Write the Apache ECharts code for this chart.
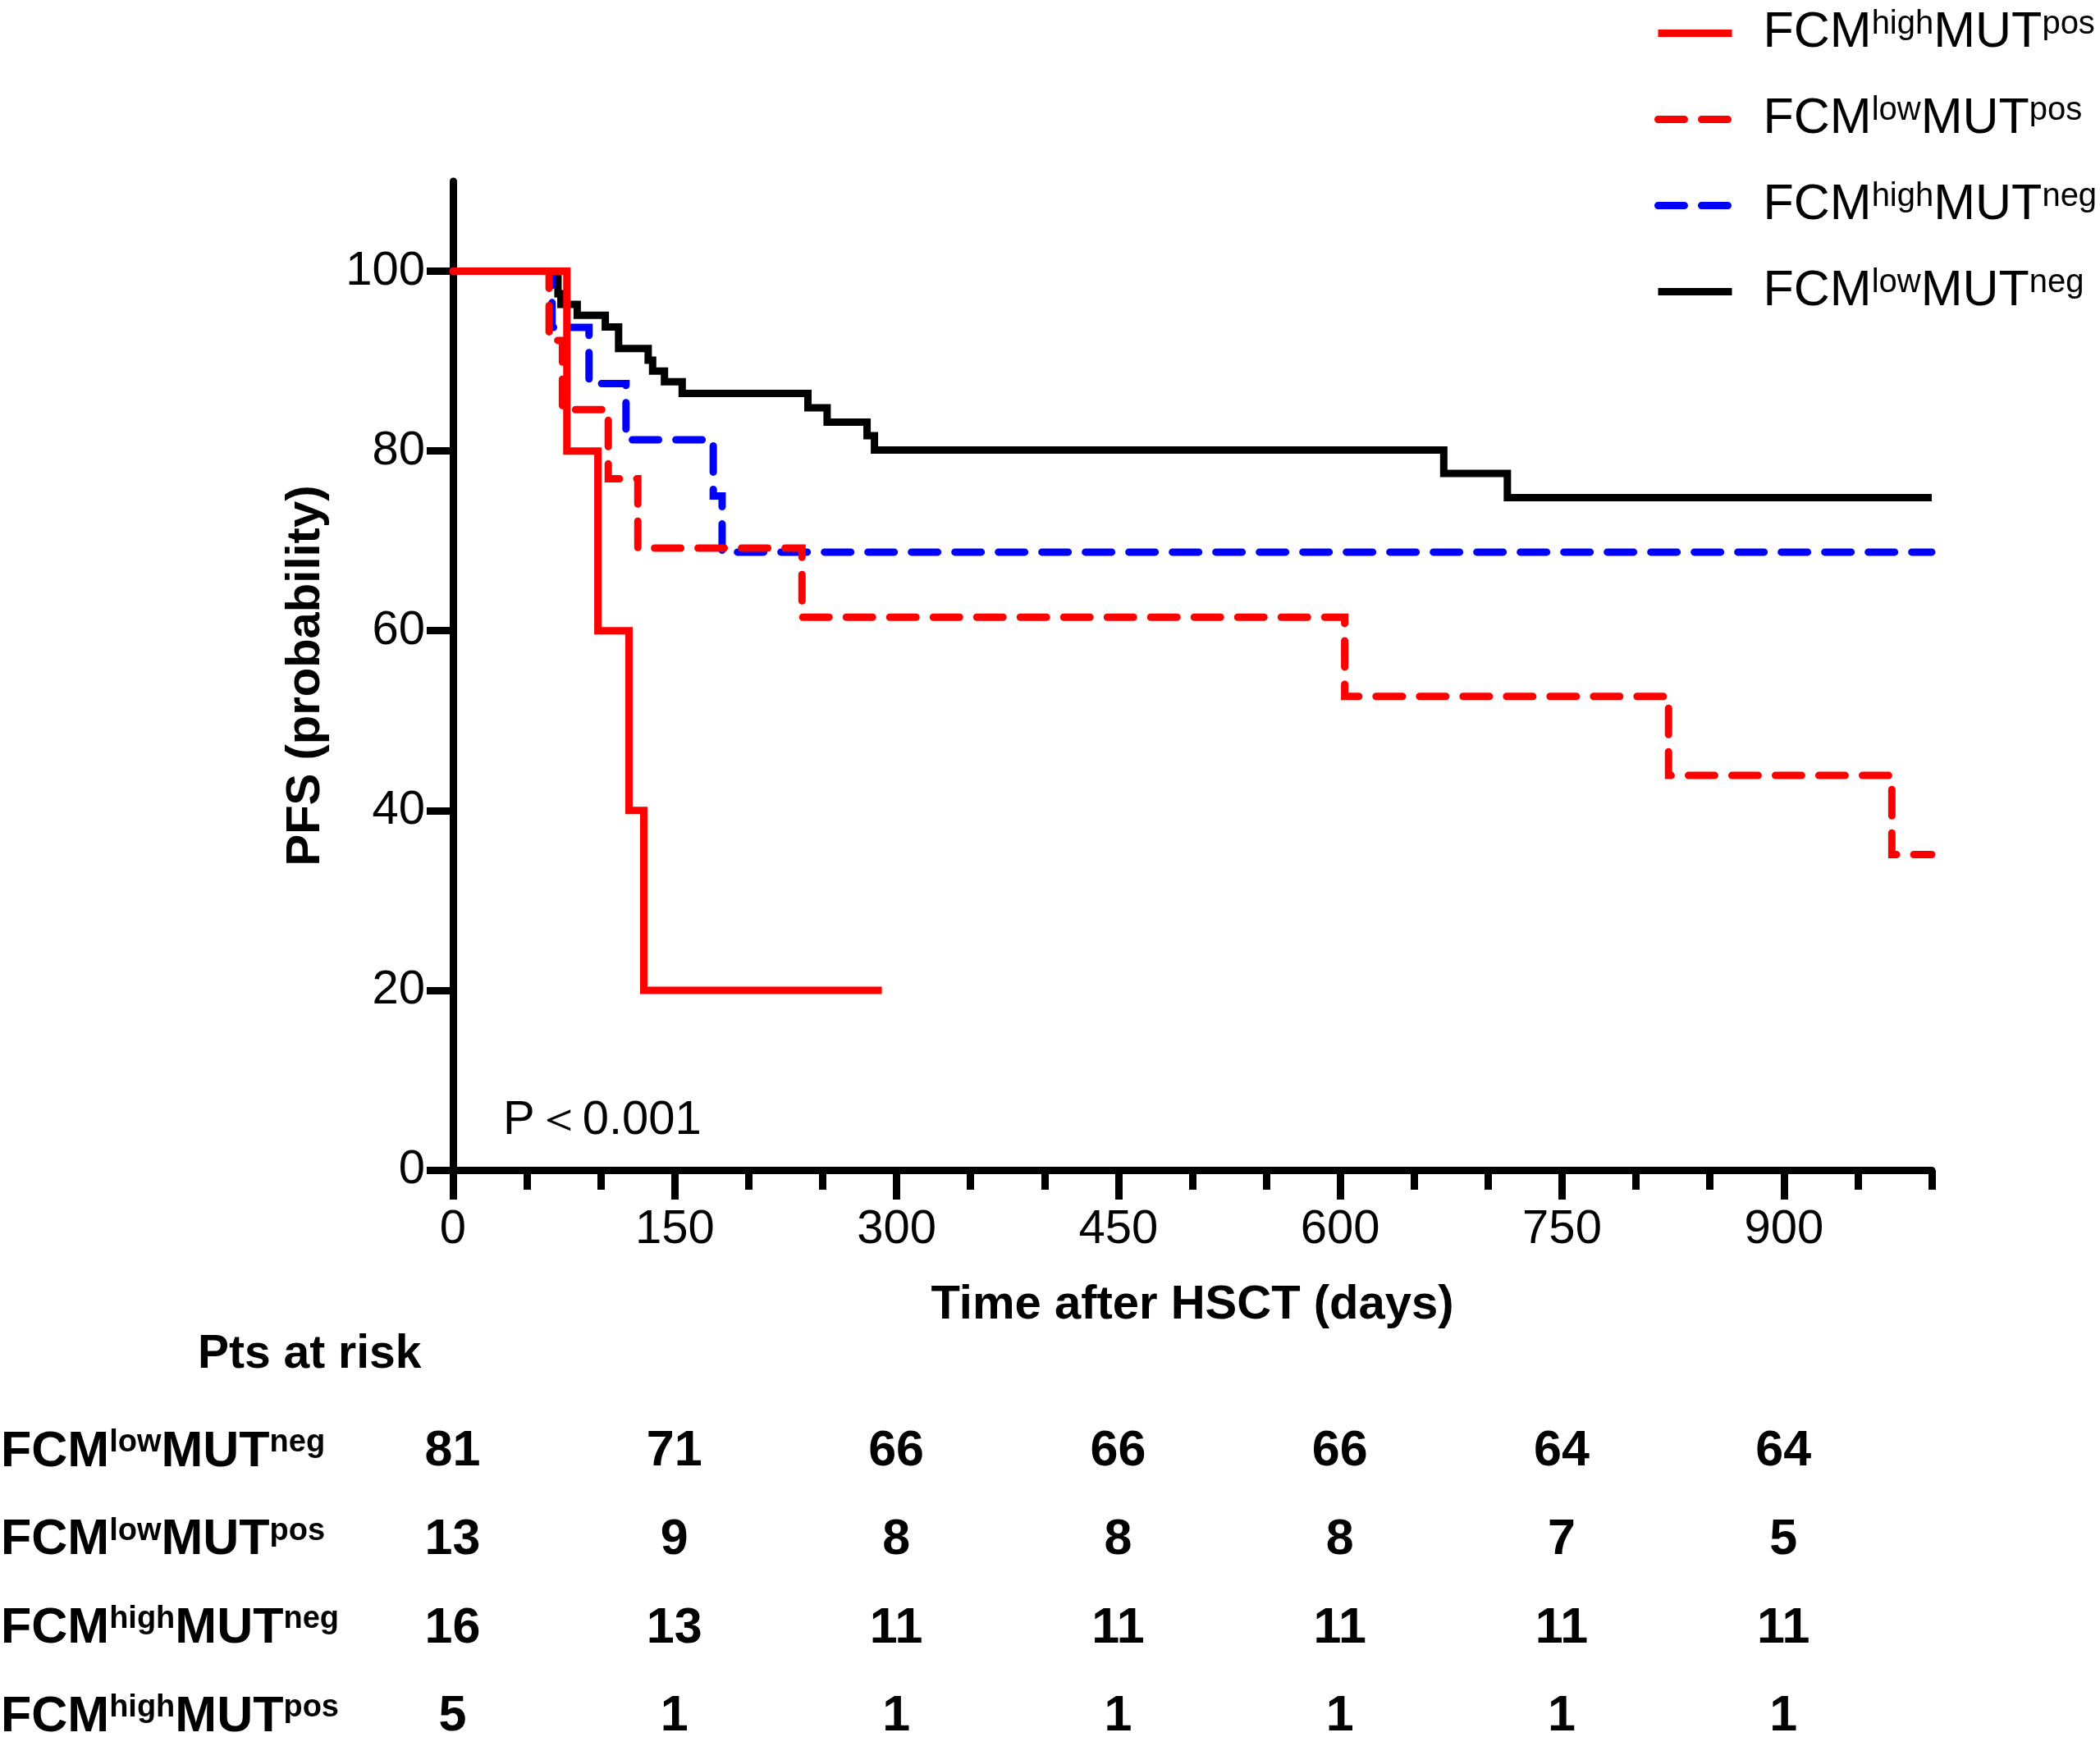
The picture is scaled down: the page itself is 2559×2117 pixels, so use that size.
<!DOCTYPE html>
<html>
<head>
<meta charset="utf-8">
<title>PFS by FCM and MUT status</title>
<script src="https://cdn.jsdelivr.net/npm/echarts@6/dist/echarts.min.js"></script>
<style>
  html, body { margin: 0; padding: 0; background: #fff; }
  #chart { width: 2559px; height: 2117px; }
</style>
</head>
<body>
<div id="chart"></div>
<script>
// Kaplan-Meier steps: day of each drop and the PFS (%) after it
const lowNegDays  = [0, 71, 73, 84, 103, 112, 132, 135, 143, 155, 240, 253, 280, 285, 670, 713, 1000];
const lowNegPfs   = [100, 97.5, 96.3, 95.1, 93.8, 91.4, 90.1, 88.9, 87.7, 86.4, 84.8, 83.2, 81.7, 80.1, 77.5, 74.8, 74.8];
const highNegDays = [0, 67, 92, 117, 176, 182, 1000];
const highNegPfs  = [100, 93.75, 87.5, 81.25, 75, 68.75, 68.75];
const lowPosDays  = [0, 65, 74, 105, 125, 236, 603, 822, 973, 1000];
const lowPosPfs   = [100, 92.3, 84.6, 76.9, 69.2, 61.5, 52.7, 43.9, 35.1, 35.1];
const highPosDays = [0, 77, 98, 119, 129, 290];
const highPosPfs  = [100, 80, 60, 40, 20, 20];

// patients at risk
const riskDays    = [0, 150, 300, 450, 600, 750, 900];
const riskRows    = ['FCMlowMUTneg', 'FCMlowMUTpos', 'FCMhighMUTneg', 'FCMhighMUTpos'];
const riskLowNeg  = [81, 71, 66, 66, 66, 64, 64];
const riskLowPos  = [13, 9, 8, 8, 8, 7, 5];
const riskHighNeg = [16, 13, 11, 11, 11, 11, 11];
const riskHighPos = [5, 1, 1, 1, 1, 1, 1];

const legendOrder = ['FCMhighMUTpos', 'FCMlowMUTpos', 'FCMhighMUTneg', 'FCMlowMUTneg'];
const yTicks = [0, 20, 40, 60, 80, 100];
const xLabelTicks = [0, 150, 300, 450, 600, 750, 900];

const font = "'Liberation Sans', Arial, sans-serif";
const zip = (xs, ys) => xs.map((x, i) => [x, ys[i]]);
// FCMlowMUTneg -> rich text with superscripts
const supText = (name, m, s) => name.replace(/^FCM(\w+?)MUT(\w+)$/, '{' + m + '0|FCM}{' + s + '|$1}{' + m + '|MUT}{' + s + '|$2}');

const chart = echarts.init(document.getElementById('chart'));

const kmLine = (name, days, pfs, color, dashed) => ({
  name: name,
  type: 'line',
  step: 'end',
  symbol: 'none',
  data: zip(days, pfs),
  xAxisIndex: 0,
  yAxisIndex: 0,
  lineStyle: {
    color: color,
    width: 9,
    type: dashed ? [32, 21] : 'solid',
    cap: dashed ? 'round' : 'butt',
    join: 'miter'
  },
  itemStyle: { color: color }
});

const riskData = [];
[riskLowNeg, riskLowPos, riskHighNeg, riskHighPos].forEach((row, r) => {
  row.forEach((n, c) => riskData.push([riskDays[c], riskRows[r], n]));
});

chart.setOption({
  animation: false,
  backgroundColor: '#fff',
  textStyle: { fontFamily: font, color: '#000' },
  title: [
    { text: 'Pts at risk', left: 236, top: 1618,
      textStyle: { fontFamily: font, fontSize: 57, fontWeight: 'bold', color: '#000' } },
    { text: 'P\uFF1C0.001', left: 608, top: 1332,
      textStyle: { fontFamily: font, fontSize: 58, fontWeight: 'normal', color: '#000' } }
  ],
  legend: {
    orient: 'vertical',
    left: 2011,
    top: 5,
    itemWidth: 90,
    itemHeight: 20,
    itemGap: 44,
    data: legendOrder,
    lineStyle: { width: 9 },
    itemStyle: { opacity: 0 },
    formatter: name => supText(name, 'm', 's'),
    textStyle: {
      rich: {
        m0: { fontFamily: font, fontSize: 61, lineHeight: 61, color: '#000', padding: [0, 0, 0, 33] },
        m: { fontFamily: font, fontSize: 61, lineHeight: 61, color: '#000' },
        s: { fontFamily: font, fontSize: 40, lineHeight: 30, verticalAlign: 'top', color: '#000' }
      }
    }
  },
  grid: [
    { left: 552, width: 1802, top: 221, height: 1205, outerBoundsMode: 'none' },
    { left: 552, width: 1802, top: 1716, height: 431, outerBoundsMode: 'none' }
  ],
  xAxis: [
    {
      gridIndex: 0, type: 'value', min: 0, max: 1000, interval: 50, position: 'bottom',
      axisLine: { lineStyle: { color: '#000', width: 9 } },
      axisTick: { length: 24, lineStyle: { color: '#000', width: 9 } },
      axisLabel: { show: false },
      splitLine: { show: false },
      name: 'Time after HSCT (days)', nameLocation: 'middle', nameGap: 136,
      nameTextStyle: { fontFamily: font, fontSize: 58, fontWeight: 'bold', color: '#000' }
    },
    {
      gridIndex: 0, type: 'value', min: 0, max: 1000, position: 'bottom',
      axisLine: { show: false },
      axisTick: { customValues: xLabelTicks, length: 36, lineStyle: { color: '#000', width: 9 } },
      axisLabel: { customValues: xLabelTicks, margin: 44, fontFamily: font, fontSize: 58, color: '#000' },
      splitLine: { show: false }
    },
    { gridIndex: 1, type: 'value', min: 0, max: 1000, show: false }
  ],
  yAxis: [
    {
      gridIndex: 0, type: 'value', min: 0, max: 110,
      axisLine: { show: true, lineStyle: { color: '#000', width: 9 } },
      axisTick: { show: true, customValues: yTicks, length: 32, lineStyle: { color: '#000', width: 9 } },
      axisLabel: { customValues: yTicks, margin: 34, fontFamily: font, fontSize: 58, color: '#000' },
      splitLine: { show: false },
      name: 'PFS (probability)', nameLocation: 'middle', nameGap: 150,
      nameTextStyle: { fontFamily: font, fontSize: 58, fontWeight: 'bold', color: '#000' }
    },
    {
      gridIndex: 1, type: 'category', inverse: true, data: riskRows,
      axisLine: { show: false }, axisTick: { show: false }, splitLine: { show: false },
      axisLabel: {
        align: 'left', margin: 551,
        formatter: name => supText(name, 'b', 't'),
        rich: {
          b0: { fontFamily: font, fontSize: 61, fontWeight: 'bold', lineHeight: 61, color: '#000' },
          b: { fontFamily: font, fontSize: 61, fontWeight: 'bold', lineHeight: 61, color: '#000' },
          t: { fontFamily: font, fontSize: 38, fontWeight: 'bold', lineHeight: 30, verticalAlign: 'top', color: '#000' }
        }
      }
    }
  ],
  series: [
    kmLine('FCMlowMUTneg', lowNegDays, lowNegPfs, '#000000', false),
    kmLine('FCMhighMUTneg', highNegDays, highNegPfs, '#0000FF', true),
    kmLine('FCMlowMUTpos', lowPosDays, lowPosPfs, '#FF0000', true),
    kmLine('FCMhighMUTpos', highPosDays, highPosPfs, '#FF0000', false),
    {
      name: 'at risk',
      type: 'scatter',
      xAxisIndex: 2,
      yAxisIndex: 1,
      symbolSize: 1,
      silent: true,
      itemStyle: { color: '#fff', opacity: 1 },
      data: riskData,
      label: {
        show: true, position: [0, 0], align: 'center', verticalAlign: 'middle',
        formatter: p => '{n|' + p.value[2] + '}',
        rich: {
          n: { fontFamily: font, fontSize: 61, fontWeight: 'bold', color: '#000' }
        }
      }
    }
  ]
});
</script>
</body>
</html>
